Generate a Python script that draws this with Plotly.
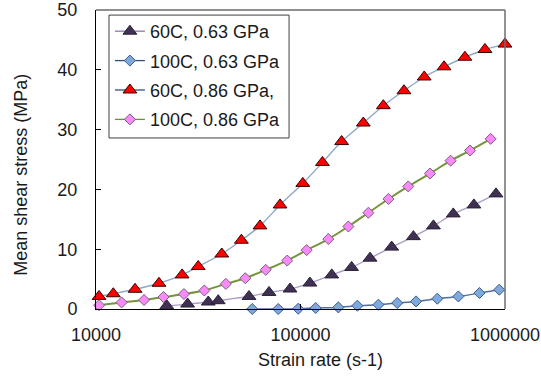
import plotly.graph_objects as go

# ---- data ----
x_60_063 = [22180, 28050, 35400, 39600, 56000, 70150, 88900, 111200, 142200, 177800,
            218800, 279200, 356500, 446700, 558500, 704700, 903600]
y_60_063 = [0.55, 0.83, 1.17, 1.39, 2.1, 2.77, 3.34, 4.34, 5.7, 6.95,
            8.5, 10.35, 12.1, 13.9, 15.9, 17.4, 19.25]

x_100_063 = [58070, 77800, 97500, 118600, 153100, 189700, 240400, 297200, 367300,
             466700, 591600, 749900, 937600]
y_100_063 = [0.0, 0.0, 0.05, 0.17, 0.27, 0.55, 0.72, 1.0, 1.27, 1.72, 2.1, 2.67, 3.23]

x_60_086 = [10350, 12150, 15520, 20320, 26360, 31620, 41210, 51400, 63390, 79430,
            102600, 128000, 158900, 202800, 254100, 320600, 402700, 503500, 636800,
            798000, 1000000]
y_60_086 = [2.1, 2.55, 3.3, 4.3, 5.7, 7.1, 9.2, 11.5, 13.9, 17.4,
            21.0, 24.5, 28.0, 31.1, 34.0, 36.5, 38.8, 40.5, 42.1, 43.4, 44.3]

x_100_086 = [10350, 13340, 17180, 21380, 26920, 33880, 43150, 53700, 67600, 86100,
             107200, 136800, 171400, 214800, 269200, 336500, 429500, 542000, 674500,
             851000]
y_100_086 = [0.63, 1.1, 1.5, 2.0, 2.5, 3.1, 4.2, 5.15, 6.55, 8.1,
             9.85, 11.7, 13.8, 16.1, 18.4, 20.5, 22.65, 24.8, 26.5, 28.45]

names = ["60C, 0.63 GPa", "100C, 0.63 GPa", "60C, 0.86 GPa,", "100C, 0.86 GPa"]
x_ticks = [10000, 100000, 1000000]
x_tick_text = ["10000", "100000", "1000000"]
y_ticks = [0, 10, 20, 30, 40, 50]

FONT = "Liberation Sans, Arial, sans-serif"
TXT = "#1a1a1a"

series = [
    # x, y, name, symbol, size, fill, outline, plot line colour, legend line colour, width
    (x_60_063, y_60_063, names[0], "triangle-up", 12, "#403152", "#2a1f38", "#ac9cc4", "#8c78ab", 1.3),
    (x_100_063, y_100_063, names[1], "diamond", 8.5, "#7fa8dc", "#385d8a", "#4f6f9c", "#2f4f7e", 1.5),
    (x_60_086, y_60_086, names[2], "triangle-up", 12, "#ff0000", "#3a0000", "#8fa8c6", "#34507a", 1.4),
    (x_100_086, y_100_086, names[3], "diamond", 8.5, "#f98af9", "#7f5f7f", "#77933c", "#6f8c3a", 2.0),
]

fig = go.Figure()

# plotted series
for xs, ys, nm, sym, sz, fill, outl, lc, _, lw in series:
    fig.add_trace(go.Scatter(
        x=xs, y=ys, name=nm, mode="lines+markers", showlegend=False,
        line=dict(color=lc, width=lw, shape="spline", smoothing=0.8),
        marker=dict(symbol=sym, size=sz, color=fill, line=dict(color=outl, width=1)),
        cliponaxis=False,
    ))

# legend entries
for i, (xs, ys, nm, sym, sz, fill, outl, _, llc, lw) in enumerate(series):
    fig.add_trace(go.Scatter(
        x=[None], y=[None], name=nm, mode="lines+markers", legendgroup=f"g{i}",
        line=dict(color=llc, width=1.3),
        marker=dict(symbol=sym, size=sz, color=fill, line=dict(color=outl, width=1)),
    ))

fig.update_layout(
    width=541, height=376,
    margin=dict(l=96, r=36, t=10, b=67, autoexpand=False),
    paper_bgcolor="white", plot_bgcolor="white",
    font=dict(family=FONT, size=18, color=TXT),
    showlegend=True,
    legend=dict(
        x=0.034, y=0.99, xanchor="left", yanchor="top",
        bgcolor="rgba(0,0,0,0)", borderwidth=0,
        font=dict(family=FONT, size=18, color=TXT),
        tracegroupgap=3, itemwidth=30,
    ),
    xaxis=dict(
        type="log", range=[4, 6], automargin=False,
        tickvals=x_ticks, ticktext=x_tick_text,
        showgrid=False, zeroline=False,
        showline=True, linecolor="black", linewidth=1,
        ticks="inside", ticklen=5, tickcolor="black",
        ticklabelstandoff=9,
        tickfont=dict(family=FONT, size=18, color=TXT),
    ),
    yaxis=dict(
        range=[0, 50], tickvals=y_ticks, automargin=False,
        showgrid=False, zeroline=False,
        showline=True, linecolor="black", linewidth=1,
        ticks="inside", ticklen=5, tickcolor="black",
        ticklabelstandoff=14,
        tickfont=dict(family=FONT, size=18, color=TXT),
    ),
    shapes=[
        dict(type="line", xref="paper", yref="paper", x0=0, x1=1, y0=1, y1=1,
             line=dict(color="#202020", width=1)),
        dict(type="line", xref="paper", yref="paper", x0=1, x1=1, y0=0, y1=1,
             line=dict(color="#6e6e6e", width=1.5)),
        # legend frame
        dict(type="rect", xref="paper", yref="paper",
             x0=0.0318, x1=0.472, y0=0.572, y1=0.983,
             fillcolor="white", line=dict(color="#404040", width=1), layer="above"),
    ],
    annotations=[
        dict(text="Strain rate (s-1)", xref="paper", yref="paper",
             x=0.548, y=-0.169, showarrow=False, xanchor="center", yanchor="middle",
             font=dict(family=FONT, size=18, color=TXT)),
        dict(text="Mean shear stress (MPa)", xref="paper", yref="paper",
             x=-0.1834, y=0.449, showarrow=False, xanchor="center", yanchor="middle",
             textangle=-90, font=dict(family=FONT, size=18, color=TXT)),
    ],
)

fig.write_html("out.html")
